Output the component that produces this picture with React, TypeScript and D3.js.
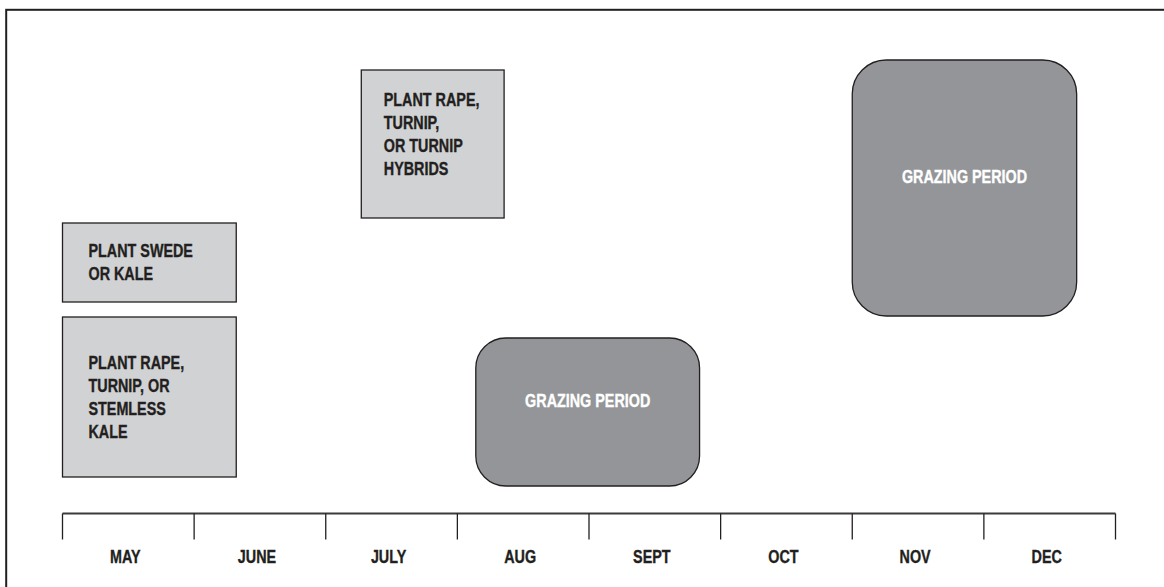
import React from "react";
import * as d3 from "d3";

// ---- data ----
const months: string[] = ["MAY", "JUNE", "JULY", "AUG", "SEPT", "OCT", "NOV", "DEC"];

// planting windows, in months since the start of May
const plantingLabels: string[][] = [
  ["PLANT SWEDE", "OR KALE"],
  ["PLANT RAPE,", "TURNIP, OR", "STEMLESS", "KALE"],
  ["PLANT RAPE,", "TURNIP,", "OR TURNIP", "HYBRIDS"],
];
const plantingStart: number[] = [0.0, 0.0, 2.27];
const plantingEnd: number[] = [1.32, 1.32, 3.355];

// grazing periods, in months since the start of May
const grazingLabel = "GRAZING PERIOD";
const grazingStart: number[] = [3.14, 6.0];
const grazingEnd: number[] = [4.84, 7.705];

// ---- layout (pixels) ----
const W = 1164;
const H = 587;
const plantingRows = [
  { top: 223, bottom: 302, valign: "middle" },
  { top: 317, bottom: 477, valign: "middle" },
  { top: 70, bottom: 218, valign: "top" },
];
const grazingRows = [
  { top: 338, bottom: 486, r: 30 },
  { top: 60, bottom: 316, r: 34 },
];
const axisY = 513.5;
const tickLen = 26;

const FONT = "'Liberation Sans', Arial, sans-serif";
const INK = "#231f20";
const SQUEEZE = 0.82;

function CondText(props: {
  x: number;
  y: number;
  size: number;
  fill: string;
  anchor?: string;
  children: string;
}) {
  const { x, y, size, fill, anchor, children } = props;
  return (
    <text
      transform={`translate(${x},${y}) scale(${SQUEEZE},1)`}
      textAnchor={anchor || "start"}
      fontFamily={FONT}
      fontWeight="bold"
      fontSize={size}
      fill={fill}
      stroke={fill}
      strokeWidth={0.35}
    >
      {children}
    </text>
  );
}

export default function App() {
  const x = d3.scaleLinear().domain([0, months.length]).range([62.5, 1115.5]);
  const ticks = d3.range(0, months.length + 1);
  const fs = 17.5;
  const lh = 23;

  return (
    <div style={{ position: "absolute", left: 0, top: 0 }}>
      <svg width={W} height={H} style={{ display: "block", background: "#fff" }}>
        {/* outer frame */}
        <rect x={6.2} y={9.8} width={1400} height={900} fill="none" stroke={INK} strokeWidth={2} />

        {/* planting boxes */}
        {plantingLabels.map((lines, i) => {
          const row = plantingRows[i];
          const x0 = x(plantingStart[i]);
          const x1 = x(plantingEnd[i]);
          const h = row.bottom - row.top;
          const capH = fs * 0.72;
          const blockH = capH + (lines.length - 1) * lh;
          const firstBase =
            row.valign === "middle" ? row.top + (h - blockH) / 2 + capH : row.top + 35.5;
          return (
            <g key={"p" + i}>
              <rect x={x0} y={row.top} width={x1 - x0} height={h} fill="#d1d2d4" stroke={INK} strokeWidth={1.3} />
              {lines.map((t, j) => (
                <CondText key={j} x={x0 + (i === 2 ? 22.5 : 26)} y={firstBase + j * lh} size={fs} fill={INK}>
                  {t}
                </CondText>
              ))}
            </g>
          );
        })}

        {/* grazing periods */}
        {grazingStart.map((s, i) => {
          const row = grazingRows[i];
          const x0 = x(s);
          const x1 = x(grazingEnd[i]);
          const h = row.bottom - row.top;
          return (
            <g key={"g" + i}>
              <rect
                x={x0}
                y={row.top}
                width={x1 - x0}
                height={h}
                rx={row.r}
                ry={row.r}
                fill="#939598"
                stroke={INK}
                strokeWidth={1.3}
              />
              <CondText x={(x0 + x1) / 2} y={row.top + h / 2 - 11 + 6} size={17.5} fill="#ffffff" anchor="middle">
                {grazingLabel}
              </CondText>
            </g>
          );
        })}

        {/* month axis */}
        <line x1={x(0)} x2={x(months.length)} y1={axisY} y2={axisY} stroke="#3b3b3b" strokeWidth={2} />
        {ticks.map((t) => (
          <line
            key={"t" + t}
            x1={x(t)}
            x2={x(t)}
            y1={axisY}
            y2={axisY + tickLen}
            stroke={INK}
            strokeWidth={1.3}
          />
        ))}
        {months.map((m, i) => (
          <CondText key={m} x={x(i + 0.5) - 3} y={563.3} size={17.5} fill={INK} anchor="middle">
            {m}
          </CondText>
        ))}
      </svg>
    </div>
  );
}
